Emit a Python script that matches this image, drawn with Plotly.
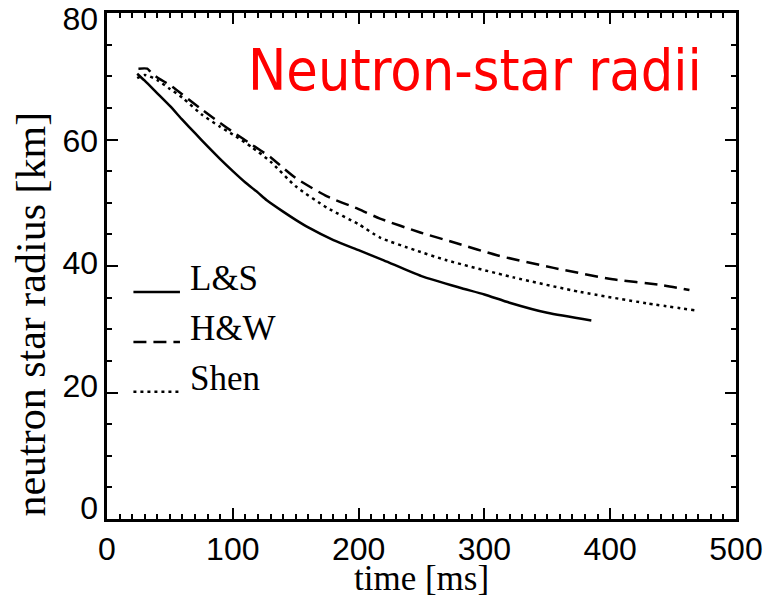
import plotly.graph_objects as go

# L&S (solid)
ls_t = [24, 30, 40, 50, 60, 70, 80, 90, 100, 110, 120, 127, 140, 150, 160, 180, 200, 220, 250, 280, 300, 320, 350, 385]
ls_r = [70.4, 69.3, 67.3, 65.3, 63.1, 61.0, 58.9, 56.9, 55.0, 53.2, 51.6, 50.4, 48.6, 47.3, 46.1, 44.1, 42.5, 40.9, 38.4, 36.6, 35.5, 34.2, 32.6, 31.4]

# H&W (dashed)
hw_t = [25, 32, 35, 40, 50, 60, 75, 90, 100, 115, 130, 140, 150, 175, 200, 217, 249, 278, 310, 355, 402, 440, 463]
hw_r = [71.2, 71.2, 70.6, 69.8, 68.6, 67.1, 64.8, 62.6, 61.2, 59.2, 57.2, 55.5, 53.9, 51.0, 49.0, 47.5, 45.3, 43.6, 41.7, 39.7, 37.9, 37.0, 36.2]

# Shen (dotted)
sh_t = [24, 30, 40, 50, 60, 75, 90, 100, 115, 130, 150, 175, 200, 217, 245, 270, 323, 376, 429, 467]
sh_r = [69.7, 70.2, 69.4, 68.0, 66.6, 64.0, 62.0, 60.8, 58.8, 56.5, 52.6, 49.2, 46.6, 44.5, 42.5, 40.9, 38.2, 35.9, 34.1, 33.0]

legend_names = ["L&S", "H&W", "Shen"]
legend_x = [21, 58]
legend_y = [35.9, 28.0, 20.1]

x_ticks = [0, 100, 200, 300, 400, 500]
y_ticks = [0, 20, 40, 60, 80]

DASH = "13px,7px"
DOT = "3px,4px"
styles = ["solid", DASH, DOT]

serif = "Liberation Serif, Times New Roman, serif"
sans = "Liberation Sans, Arial, sans-serif"

fig = go.Figure()
for t, r, d in [(ls_t, ls_r, styles[0]), (hw_t, hw_r, styles[1]), (sh_t, sh_r, styles[2])]:
    fig.add_trace(go.Scatter(x=t, y=r, mode="lines",
                             line=dict(color="black", width=2.5, dash=d, shape="spline", smoothing=0.6),
                             showlegend=False, hoverinfo="skip"))

for name, d, y in zip(legend_names, styles, legend_y):
    fig.add_trace(go.Scatter(x=legend_x, y=[y, y], mode="lines",
                             line=dict(color="black", width=2.5, dash=d),
                             showlegend=False, hoverinfo="skip"))
    fig.add_annotation(x=legend_x[1], y=y, xref="x", yref="y", text=name,
                       showarrow=False, xanchor="left", yanchor="middle",
                       xshift=8, yshift=13,
                       font=dict(family=serif, size=35, color="black"))

# empty trace so the label-only y axis is drawn
fig.add_trace(go.Scatter(x=[None], y=[None], yaxis="y2", mode="lines",
                         showlegend=False, hoverinfo="skip"))

axis_common = dict(showgrid=False, zeroline=False, showline=True, linecolor="black",
                   linewidth=3, mirror="ticks", ticks="inside", tickcolor="black",
                   tickwidth=2, ticklen=11, automargin=False, ticklabeloverflow="allow",
                   tickfont=dict(family=sans, size=32, color="black"))

fig.update_xaxes(range=[0, 500], tickvals=x_ticks, ticktext=[str(v) for v in x_ticks],
                 minor=dict(dtick=10, ticks="inside", ticklen=5, tickwidth=2, tickcolor="black"),
                 **axis_common)
fig.update_yaxes(range=[0, 80], tickvals=y_ticks, showticklabels=False,
                 minor=dict(dtick=5, ticks="inside", ticklen=5, tickwidth=2, tickcolor="black"),
                 **axis_common)

fig.update_layout(yaxis2=dict(overlaying="y", side="left", range=[-1.8, 80.9],
                              tickvals=y_ticks, ticktext=[str(v) for v in y_ticks],
                              showgrid=False, zeroline=False, showline=False, ticks="",
                              automargin=False, ticklabeloverflow="allow", ticklabelstandoff=8,
                              tickfont=dict(family=sans, size=32, color="black")))

fig.add_annotation(x=0.5, y=-0.118, xref="paper", yref="paper", text="time [ms]",
                   showarrow=False, xanchor="center", yanchor="middle",
                   font=dict(family=serif, size=35, color="black"))
fig.add_annotation(x=-0.12, y=0.405, xref="paper", yref="paper", text="neutron star radius [km]",
                   showarrow=False, xanchor="center", yanchor="middle", textangle=-90,
                   font=dict(family=serif, size=42, color="black"))
fig.add_annotation(x=0.949, y=0.888, xref="paper", yref="paper", text="Neutron-star radii",
                   showarrow=False, xanchor="right", yanchor="middle",
                   font=dict(family="DejaVu Sans Condensed, Liberation Sans Narrow, sans-serif", size=57, color="red"))

fig.update_layout(width=767, height=598, margin=dict(l=107, r=31, t=13, b=79),
                  plot_bgcolor="white", paper_bgcolor="white")

fig.write_html("out.html")
